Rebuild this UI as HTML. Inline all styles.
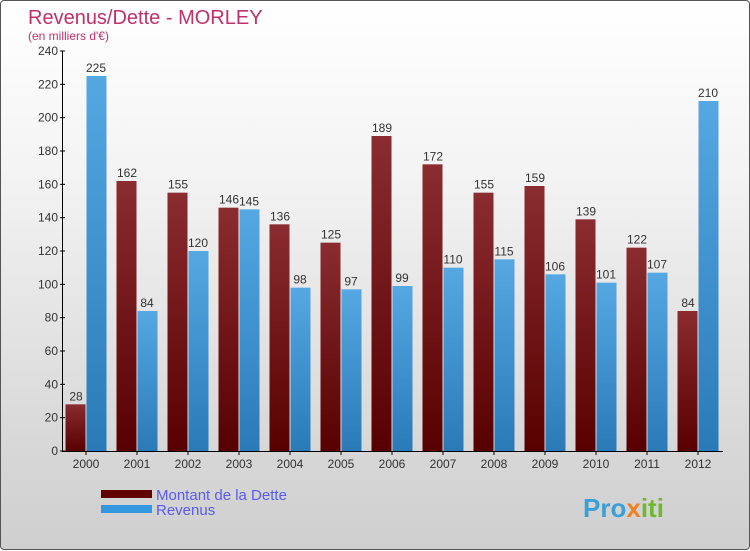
<!DOCTYPE html>
<html><head><meta charset="utf-8"><style>
body{margin:0;width:750px;height:550px;overflow:hidden;font-family:"Liberation Sans",sans-serif}
#wrap{position:absolute;left:0;top:0;width:748px;height:548px;border:1px solid #555;border-radius:4px;background:linear-gradient(#ffffff,#f4f4f4 30%,#d8d8d8 80%,#cfcfcf)}
</style></head><body>
<div id="wrap">
<svg id="chart" width="750" height="550" style="position:absolute;left:0;top:0">
<defs>
<linearGradient id="gd" x1="0" y1="0" x2="0" y2="1"><stop offset="0" stop-color="#8a2c30"/><stop offset="1" stop-color="#580000"/></linearGradient>
<linearGradient id="gr" x1="0" y1="0" x2="0" y2="1"><stop offset="0" stop-color="#55a8e2"/><stop offset="1" stop-color="#2a7ab8"/></linearGradient>
</defs>
<text x="27" y="23" font-size="20" fill="#c0306a">Revenus/Dette - MORLEY</text>
<text x="27" y="39" font-size="12" fill="#c0306a">(en milliers d'€)</text>
<g id="bars"></g><g id="axes"></g>
<g>
<rect x="100" y="489" width="51" height="8" fill="#600000"/>
<text x="155" y="499" font-size="15" fill="#5a5af0">Montant de la Dette</text>
<rect x="100" y="504" width="51" height="8" fill="#3398e0"/>
<text x="155" y="514" font-size="15" fill="#5a5af0">Revenus</text>
</g>
<text x="582" y="516" font-size="26" font-weight="bold" fill="#3aa0d8">Pro<tspan fill="#f08020">x</tspan><tspan fill="#70b830">iti</tspan></text>
</svg></div>
<script>
const years=["2000","2001","2002","2003","2004","2005","2006","2007","2008","2009","2010","2011","2012"];
const dette=[28,162,155,146,136,125,189,172,155,159,139,122,84];
const revenus=[225,84,120,145,98,97,99,110,115,106,101,107,210];
const yTicks=[0,20,40,60,80,100,120,140,160,180,200,220,240];
const NS="http://www.w3.org/2000/svg";
const y0=450,ppu=400/240,x0=85,step=51,bw=20;
const y=v=>y0-v*ppu, xc=i=>x0+i*step;
function mk(t,a,p){const e=document.createElementNS(NS,t);for(const k in a)e.setAttribute(k,a[k]);p.appendChild(e);return e;}
const bars=document.getElementById('bars'),axes=document.getElementById('axes');
years.forEach((yr,i)=>{
 let r=mk('rect',{x:xc(i)-bw-0.5,y:y(dette[i]),width:bw,height:dette[i]*ppu,fill:'url(#gd)'},bars);
 
 
 let r2=mk('rect',{x:xc(i)+0.5,y:y(revenus[i]),width:bw,height:revenus[i]*ppu,fill:'url(#gr)'},bars);
 
 
 let t=mk('text',{x:xc(i)-bw/2,y:y(dette[i])-4,'font-size':12,'text-anchor':'middle',fill:'#333'},bars);t.textContent=dette[i];
 
 
 let t2=mk('text',{x:xc(i)+bw/2,y:y(revenus[i])-4,'font-size':12,'text-anchor':'middle',fill:'#333'},bars);t2.textContent=revenus[i];
 
 
 mk('line',{x1:xc(i),x2:xc(i),y1:y0,y2:y0+4,stroke:'#000'},axes);
 let xl=mk('text',{x:xc(i),y:y0+17,'font-size':12,'text-anchor':'middle',fill:'#333'},axes);xl.textContent=yr;
 
 
});
yTicks.forEach(v=>{
 mk('line',{x1:59,x2:64,y1:y(v),y2:y(v),stroke:'#000'},axes);
 let t=mk('text',{x:57,y:y(v)+4,'font-size':12,'text-anchor':'end',fill:'#333'},axes);t.textContent=v;
 
 
});
let ya=mk('line',{x1:61.5,x2:61.5,y1:50,y2:y0,stroke:'#000'},axes);


let xa=mk('line',{x1:61,x2:722,y1:y0+0.5,y2:y0+0.5,stroke:'#000'},axes);


</script>
</body></html>
